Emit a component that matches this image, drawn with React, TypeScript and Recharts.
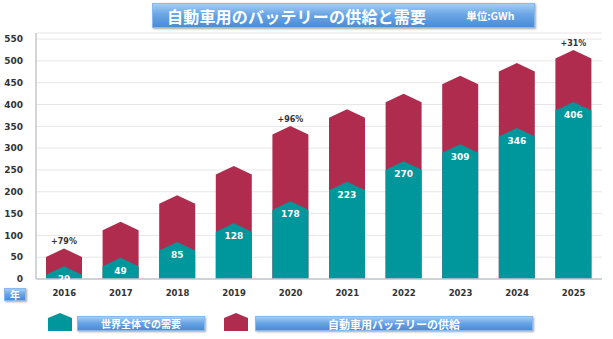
import React from 'react';
import { BarChart, Bar, XAxis, YAxis, CartesianGrid, LabelList } from 'recharts';

const years = ['2016', '2017', '2018', '2019', '2020', '2021', '2022', '2023', '2024', '2025'];
const demand = [29, 49, 85, 128, 178, 223, 270, 309, 346, 406];
const supply = [70, 131, 192, 259, 351, 389, 425, 466, 495, 525];
const growth = ['+79%', '', '', '', '+96%', '', '', '', '', '+31%'];
const yTicks = [0, 50, 100, 150, 200, 250, 300, 350, 400, 450, 500, 550];

const TEAL = '#00979c';
const RED = '#b02c4f';
const FONT = '"DejaVu Sans", Verdana, sans-serif';
const JP = '"Noto Sans CJK JP", "Noto Sans", sans-serif';

const data = years.map((y, i) => ({ year: y, demand: demand[i], supply: supply[i], growth: growth[i] }));

const Arrow = (props: any) => {
  const { x, y, width, height, fill } = props;
  if (!height || height <= 0) return null;
  const p = Math.min(8.5, height);
  const d = `M${x},${y + p} L${x + width / 2},${y} L${x + width},${y + p} L${x + width},${y + height} L${x},${y + height} Z`;
  return <path d={d} fill={fill} />;
};

const DemandLabel = (props: any) => {
  const { x, y, width, value } = props;
  return (
    <text x={x + width / 2} y={y + 16} textAnchor="middle" fill="#fff" fontSize={9} fontWeight="bold" fontFamily={FONT}>
      {value}
    </text>
  );
};

const GrowthLabel = (props: any) => {
  const { x, y, width, value } = props;
  if (!value) return null;
  return (
    <text x={x + width / 2} y={y - 4} textAnchor="middle" fill="#333" fontSize={8} fontWeight="bold" fontFamily={FONT}>
      {value}
    </text>
  );
};

const blueBox: React.CSSProperties = {
  position: 'absolute',
  background: 'linear-gradient(to bottom, #a3cdf4 0%, #6aa6e6 45%, #4a8bd8 100%)',
  border: '1px solid #8ab8ea',
  boxShadow: '1px 1px 2px rgba(0,0,0,0.35)',
  color: '#fff',
  fontFamily: JP,
  fontWeight: 'bold',
  boxSizing: 'border-box',
  display: 'flex',
  alignItems: 'center',
  justifyContent: 'center',
  whiteSpace: 'nowrap',
};

const House = ({ color, left }: { color: string; left: number }) => (
  <svg style={{ position: 'absolute', left, top: 313 }} width={24} height={18}>
    <path d="M0,5 L12,0 L24,5 L24,18 L0,18 Z" fill={color} />
  </svg>
);

export default function App() {
  return (
    <div style={{ position: 'absolute', left: 0, top: 0, width: 613, height: 339, background: '#fff', overflow: 'hidden' }}>
      <BarChart
        width={613}
        height={339}
        data={data}
        margin={{ top: 33, right: 11, bottom: 30, left: 0 }}
      >
        <CartesianGrid vertical={false} stroke="#e6e6e6" strokeWidth={1} />
        <XAxis
          xAxisId="a"
          dataKey="year"
          height={30}
          axisLine={{ stroke: '#c4c8cc', strokeWidth: 1.5 }}
          tickLine={false}
          tickSize={0}
          tickMargin={11}
          tick={{ fontSize: 8.5, fontWeight: 'bold', fill: '#333', fontFamily: FONT }}
        />
        <XAxis xAxisId="b" dataKey="year" hide />
        <YAxis
          width={36}
          domain={[0, 564]}
          ticks={yTicks}
          interval={0}
          axisLine={{ stroke: '#c4c8cc', strokeWidth: 1.5 }}
          tickLine={false}
          tickSize={0}
          tickMargin={13}
          tick={{ fontSize: 9, fontWeight: 'bold', fill: '#333', fontFamily: FONT }}
        />
        <Bar xAxisId="a" dataKey="supply" fill={RED} barSize={36} shape={Arrow} isAnimationActive={false}>
          <LabelList dataKey="growth" content={GrowthLabel} />
        </Bar>
        <Bar xAxisId="b" dataKey="demand" fill={TEAL} barSize={36} shape={Arrow} isAnimationActive={false}>
          <LabelList dataKey="demand" content={DemandLabel} />
        </Bar>
      </BarChart>

      <div style={{ ...blueBox, left: 152, top: 3, width: 383, height: 25, justifyContent: 'flex-start' }}>
        <span style={{ fontSize: 16, marginLeft: 14, letterSpacing: 0.2 }}>自動車用のバッテリーの供給と需要</span>
        <span style={{ fontSize: 10.5, marginLeft: 40 }}>単位:GWh</span>
      </div>

      <div style={{ ...blueBox, left: 4, top: 288, width: 22, height: 13, fontSize: 10 }}>年</div>

      <House color={TEAL} left={48} />
      <div style={{ ...blueBox, left: 77, top: 316, width: 128, height: 15, fontSize: 10 }}>世界全体での需要</div>
      <House color={RED} left={224} />
      <div style={{ ...blueBox, left: 255, top: 316, width: 278, height: 15, fontSize: 11 }}>自動車用バッテリーの供給</div>
    </div>
  );
}
